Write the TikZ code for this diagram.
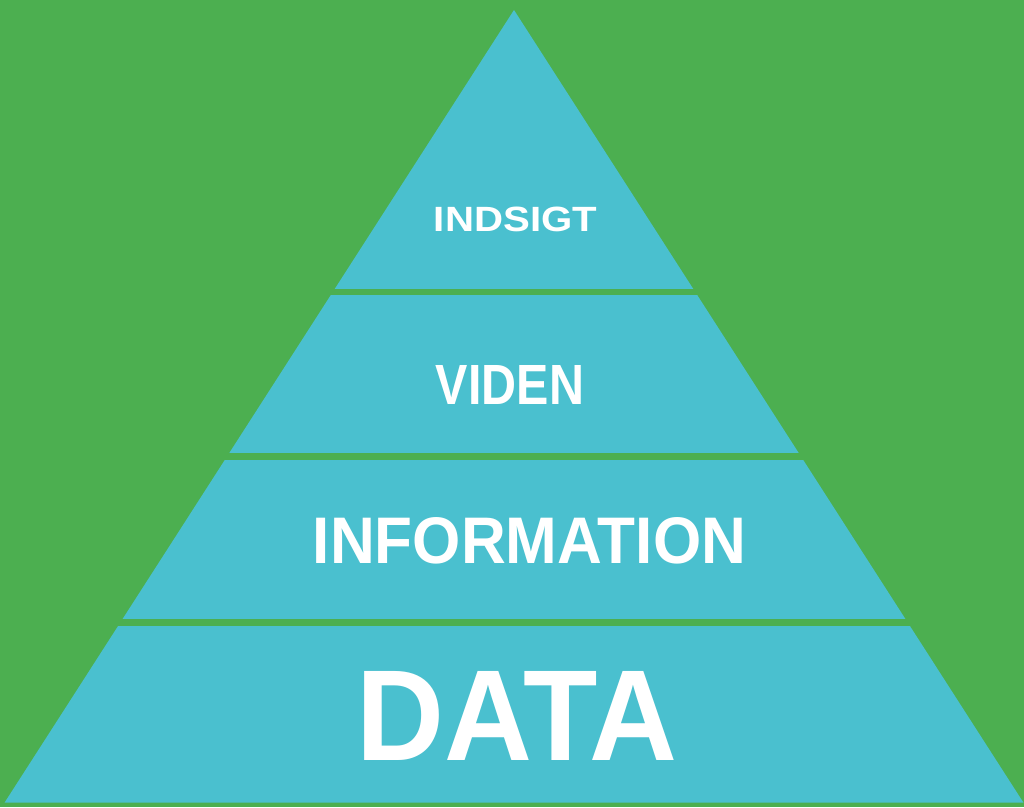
\documentclass[tikz,border=0pt]{standalone}
\usepackage{fontspec}
\setmainfont{Liberation Sans}
\definecolor{bggreen}{RGB}{76,175,80}
\definecolor{layercyan}{RGB}{74,192,207}
\tikzset{
  label/.style={text=white, inner sep=0pt, font=\bfseries},
  band/.style={fill=bggreen, draw=none}
}
\begin{document}
\begin{tikzpicture}[x=1pt,y=-1pt]
\fill[bggreen] (0,0) rectangle (1024,807);
\useasboundingbox (0,0) rectangle (1024,807);
% pyramid
\coordinate (apex) at (514,10);
\coordinate (bl) at (4.5,802.7);
\coordinate (br) at (1023.5,802.7);
\fill[layercyan] (apex) -- (br) -- (bl) -- cycle;
% separating bands
\fill[band] (0,289) rectangle (1024,295);
\fill[band] (0,453.2) rectangle (1024,460.2);
\fill[band] (0,619.3) rectangle (1024,625.8);
% labels
\node[label] (indsigt) at (515.5,219.5) {\resizebox{163pt}{24.5pt}{INDSIGT}};
\node[label] (viden) at (510,384.7) {\resizebox{148pt}{39pt}{VIDEN}};
\node[label] (information) at (529.5,541) {\resizebox{433pt}{46pt}{INFORMATION}};
\node[label] (data) at (517,716.3) {\resizebox{320pt}{89pt}{DATA}};
\end{tikzpicture}
\end{document}
